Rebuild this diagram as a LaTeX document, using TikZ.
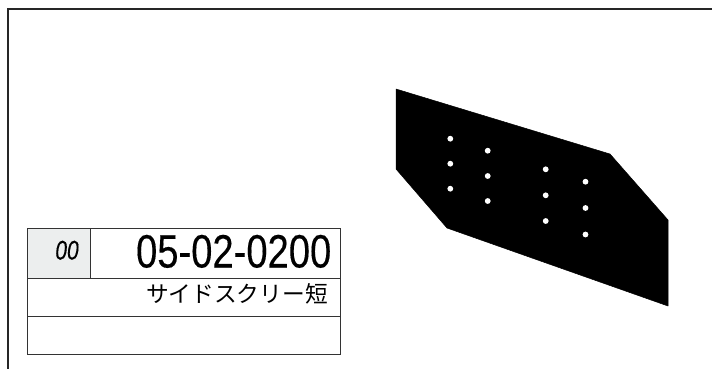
\documentclass[tikz,border=0pt]{standalone}
\usepackage{fontspec}
\setmainfont{Liberation Sans}
\newfontfamily\cjk{Noto Sans CJK JP}
\definecolor{cellgrey}{HTML}{ECEEEE}
\tikzset{
  framerule/.style={draw=black!85,line width=1.8bp},
  tablerule/.style={draw=black!80,line width=1bp},
  hole/.style={circle,fill=white,draw=none,inner sep=0pt,minimum size=5.8bp}
}
\begin{document}
\begin{tikzpicture}[x=1bp,y=-1bp]
\useasboundingbox (0,0) rectangle (712,369);
\fill[white] (0,0) rectangle (712,369);
% frame
\draw[framerule] (712,9) -- (8,9) -- (8,369);
% plate
\fill[black,line join=round,draw=black,line width=0.5bp] (396,89) -- (610,154) -- (668,220) -- (668,306) -- (447,228) -- (396,169) -- cycle;
\foreach \n/\x/\y in {a1/450.3/138.7,a2/450.3/163.7,a3/450.3/188.7,
  b1/487.7/150.7,b2/487.7/176,b3/487.7/201,
  c1/545.7/169.3,c2/545.7/195.3,c3/545.7/221,
  d1/585.5/181.7,d2/585.5/208,d3/585.5/234.5}
  \node[hole] (\n) at (\x,\y) {};
% title table
\fill[cellgrey] (27.5,228.5) rectangle (90.5,278);
\draw[tablerule] (27.5,228.5) rectangle (340.5,354);
\draw[tablerule] (27.5,278) -- (340.5,278);
\draw[tablerule] (27.5,316) -- (340.5,316);
\draw[tablerule] (90.5,228.5) -- (90.5,278);
\node[anchor=base,inner sep=0pt] (rev) at (67,259.5) {\fontsize{27}{27}\selectfont\scalebox{0.78}[1]{\addfontfeature{FakeBold=0.3}\itshape 00}};
\node[anchor=base east,inner sep=0pt] (num) at (331.5,267.5) {\fontsize{47}{47}\selectfont\scalebox{0.815}[1]{\addfontfeature{FakeBold=0.3}05-02-0200}};
\node[anchor=base east,inner sep=0pt] (name) at (328,302) {\fontsize{22.8}{22.8}\selectfont\cjk サイドスクリー短};
\end{tikzpicture}
\end{document}
